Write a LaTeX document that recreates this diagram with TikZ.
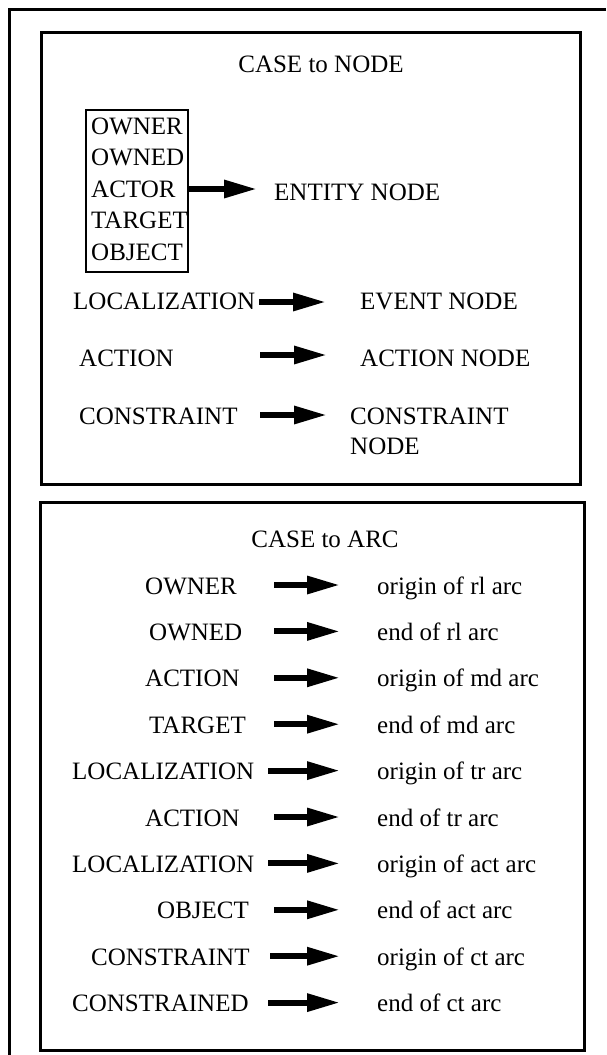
\documentclass[tikz,border=0pt]{standalone}
\usepackage{fontspec}
\setmainfont{Liberation Serif}
\usetikzlibrary{arrows.meta}

\tikzset{
  frameline/.style={line width=3pt},
  boxline/.style={line width=2.6pt},
  lbl/.style={inner sep=0pt, anchor=base west, font=\fontsize{25}{30}\selectfont},
  ttl/.style={inner sep=0pt, anchor=base, font=\fontsize{25}{30}\selectfont},
  maparrow/.style={line width=6pt, -{Triangle[length=33pt,width=17pt]}},
}

\begin{document}
\begin{tikzpicture}[x=1pt,y=-1pt]
  \useasboundingbox (0,0) rectangle (606,1055);

  % outer frame (only top and left sides in view)
  \draw[frameline] (606,9) -- (9,9) -- (9,1055);

  % ---------- CASE to NODE ----------
  \draw[frameline] (41,32) rectangle (580,484);
  \node[ttl] (tnode) at (321,72) {CASE to NODE};

  \draw[boxline] (86,110) rectangle (188,272);
  \coordinate (grpE) at (188,189);
  \node[lbl] (g1) at (91,134) {OWNER};
  \node[lbl] (g2) at (91,165.5) {OWNED};
  \node[lbl] (g3) at (91,197) {ACTOR};
  \node[lbl] (g4) at (91,228.5) {TARGET};
  \node[lbl] (g5) at (91,260) {OBJECT};
  \node[lbl] (entity) at (274,200) {ENTITY NODE};
  \coordinate (entityT) at (257,189);
  \draw[maparrow] (grpE) -- (entityT);

  \node[lbl] (loc) at (73,309) {LOCALIZATION};
  \node[lbl] (event) at (360,309) {EVENT NODE};
  \coordinate (locS) at (259,302);
  \coordinate (locT) at (326,302);
  \draw[maparrow] (locS) -- (locT);

  \node[lbl] (act) at (79,366) {ACTION};
  \node[lbl] (actn) at (360,366) {ACTION NODE};
  \coordinate (actS) at (260,355);
  \coordinate (actT) at (327,355);
  \draw[maparrow] (actS) -- (actT);

  \node[lbl] (con) at (79,424) {CONSTRAINT};
  \node[lbl] (conn) at (350,424) {CONSTRAINT};
  \node[lbl] (conn2) at (350,454) {NODE};
  \coordinate (conS) at (260,415);
  \coordinate (conT) at (327,415);
  \draw[maparrow] (conS) -- (conT);

  % ---------- CASE to ARC ----------
  \draw[frameline] (40,502) rectangle (584,1050);
  \node[ttl] (tarc) at (325,547) {CASE to ARC};

  \foreach \i/\x/\src/\dst/\sx in {
      0/145/OWNER/origin of rl arc/274,
      1/149/OWNED/end of rl arc/274,
      2/145/ACTION/origin of md arc/274,
      3/149/TARGET/end of md arc/274,
      4/72/LOCALIZATION/origin of tr arc/268,
      5/145/ACTION/end of tr arc/274,
      6/72/LOCALIZATION/origin of act arc/268,
      7/157/OBJECT/end of act arc/274,
      8/91/CONSTRAINT/origin of ct arc/270,
      9/72/CONSTRAINED/end of ct arc/268} {
    \pgfmathsetmacro{\yy}{585+46.4*\i}
    \node[lbl] (src\i) at (\x,\yy+9) {\src};
    \node[lbl] (dst\i) at (377,\yy+9) {\dst};
    \coordinate (as\i) at (\sx,\yy);
    \coordinate (at\i) at (340,\yy);
    \draw[maparrow] (as\i) -- (at\i);
  }
\end{tikzpicture}
\end{document}
